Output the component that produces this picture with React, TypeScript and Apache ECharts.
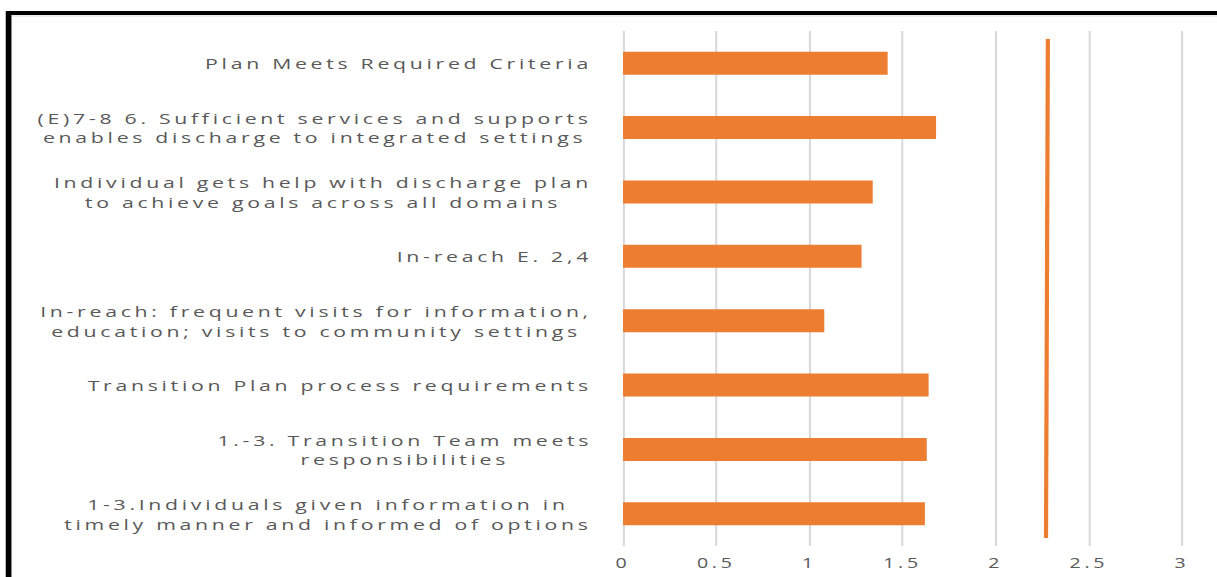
import React, { useEffect, useRef } from "react";
import * as echarts from "echarts";

// ---- data ----
const categories: string[] = [
  "Plan Meets Required Criteria",
  "(E)7-8 6. Sufficient services and supports\nenables discharge to integrated settings",
  "Individual gets help with discharge plan\nto achieve goals across all domains",
  "In-reach E. 2,4",
  "In-reach: frequent visits for information,\neducation; visits to community settings",
  "Transition Plan process requirements",
  "1.-3. Transition Team meets\nresponsibilities",
  "1-3.Individuals given information in\ntimely manner and informed of options",
];
const scores: number[] = [1.42, 1.68, 1.34, 1.28, 1.08, 1.64, 1.63, 1.62];
const targetLine: number[][] = [
  [2.28, 1],
  [2.27, 0],
];
const xTicks = { min: 0, max: 3, interval: 0.5 };

// ---- style ----
const CHART_W = 870;
const CHART_H = 577;
const STRETCH = 1217 / CHART_W;
const ORANGE = "#ED7D31";
const TEXT = "#595959";
const GRID = "#d9d9d9";
const FONT = '"Open Sans", sans-serif';
const LABEL_SIZE = 15.2;
const LETTER = 2.65;

function measure(text: string, size: number): number {
  const ctx = document.createElement("canvas").getContext("2d");
  if (!ctx) return text.length * size * 0.55;
  ctx.font = `${size}px "Open Sans"`;
  return ctx.measureText(text).width + text.length * LETTER;
}

export default function App() {
  const ref = useRef<HTMLDivElement>(null);

  useEffect(() => {
    if (!ref.current) return;
    const chart = echarts.init(ref.current, null, { renderer: "svg" });

    const rich: Record<string, any> = {};
    categories.forEach((c, i) => {
      const w = Math.max(...c.split("\n").map((l) => measure(l, LABEL_SIZE)));
      rich["c" + i] = {
        width: Math.ceil(w),
        align: "center",
        fontSize: LABEL_SIZE,
        fontFamily: FONT,
        color: TEXT,
        lineHeight: 19.5,
      };
    });

    chart.setOption({
      animation: false,
      backgroundColor: "#ffffff",
      grid: { left: 445.4, right: 25, top: 31, bottom: 31 },
      xAxis: {
        type: "value",
        min: xTicks.min,
        max: xTicks.max,
        interval: xTicks.interval,
        axisLine: { show: false },
        axisTick: { show: false },
        splitLine: { show: true, lineStyle: { color: GRID, width: 1.5 } },
        axisLabel: { color: TEXT, fontSize: 14, fontFamily: FONT, margin: 10 },
      },
      yAxis: [
        {
          type: "category",
          data: categories,
          inverse: true,
          axisLine: { show: false },
          axisTick: { show: false },
          splitLine: { show: false },
          axisLabel: {
            interval: 0,
            margin: 22,
            formatter: (value: string, index: number) =>
              value
                .split("\n")
                .map((l) => `{c${index}|${l}}`)
                .join("\n"),
            rich,
          },
        },
        {
          type: "value",
          show: false,
          min: -0.016,
          max: 1.016,
        },
      ],
      series: [
        {
          type: "bar",
          data: scores,
          barWidth: 23,
          itemStyle: { color: ORANGE },
          silent: true,
        },
        {
          type: "line",
          yAxisIndex: 1,
          data: targetLine,
          symbol: "none",
          lineStyle: { color: ORANGE, width: 3 },
          silent: true,
        },
      ],
      graphic: [
        {
          type: "rect",
          silent: true,
          shape: { x: 8.2, y: 16, width: 2000, height: 1000 },
          style: { fill: "none", stroke: GRID, lineWidth: 1 },
        },
        {
          type: "rect",
          silent: true,
          shape: { x: 6.1, y: 13, width: 2000, height: 1000 },
          style: { fill: "none", stroke: "#000000", lineWidth: 4 },
        },
      ],
    });

    return () => chart.dispose();
  }, []);

  return (
    <>
      <style>{`.stretched-chart text { letter-spacing: ${LETTER}px; }`}</style>
      <div
        ref={ref}
        className="stretched-chart"
        style={{
          position: "absolute",
          left: 0,
          top: 0,
          width: CHART_W,
          height: CHART_H,
          transform: `scaleX(${STRETCH})`,
          transformOrigin: "0 0",
        }}
      />
    </>
  );
}
